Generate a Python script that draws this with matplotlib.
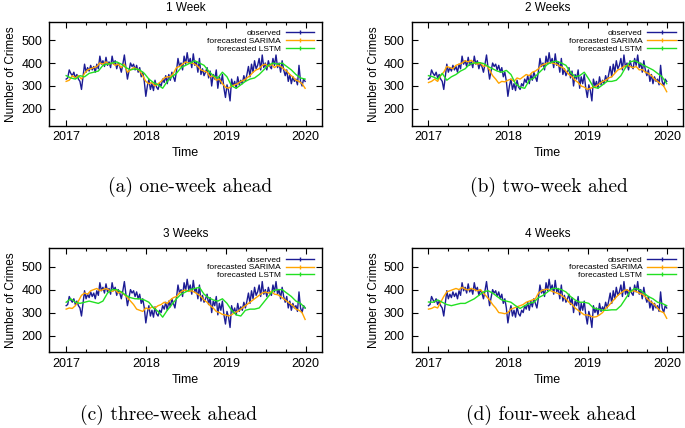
import pandas as pd
import matplotlib
matplotlib.use("Agg")
import matplotlib.pyplot as plt
import matplotlib.dates as mdates
from matplotlib.lines import Line2D

plt.rcParams['font.family'] = ['Liberation Sans', 'DejaVu Sans']

# weekly observed counts, 2017-01-01 .. 2019-12-29
observed = [
    330, 335, 370, 355, 345, 360, 335, 350, 330, 320, 285, 340, 395,
    360, 380, 365, 390, 370, 385, 360, 395, 375, 430, 395, 410, 385,
    425, 390, 405, 380, 430, 395, 410, 375, 400, 385, 360, 395, 435,
    380, 330, 365, 400, 385, 395, 370, 390, 360, 380, 340, 360, 320,
    255, 300, 330, 285, 310, 280, 325, 295, 285, 310, 300, 330, 315,
    345, 310, 350, 325, 360, 340, 320, 365, 420, 385, 400, 370, 430,
    395, 445, 400, 420, 380, 440, 390, 405, 360, 420, 350, 375, 345,
    360, 380, 335, 365, 300, 350, 330, 370, 290, 340, 310, 350, 290,
    250, 305, 280, 235, 330, 300, 320, 290, 340, 305, 325, 310, 345,
    320, 350, 385, 340, 395, 360, 410, 375, 390, 420, 370, 435, 380,
    400, 370, 410, 385, 375, 420, 390, 435, 380, 400, 360, 410, 370,
    345, 370, 320, 350, 310, 340, 320, 330, 305, 390, 320, 300, 330,
    320,
]

# SARIMA forecasts (every 2nd week)
sarima_1 = [
    320, 325, 345, 335, 345, 330, 355, 370, 375, 380, 385, 400, 395, 405, 395, 400, 390, 395, 380, 395, 360, 370, 380, 375, 365, 345,
    320, 310, 315, 300, 310, 320, 335, 340, 340, 355, 380, 385, 395, 405, 400, 400, 395, 385, 370, 365, 360, 340, 345, 325, 330, 310,
    295, 290, 300, 305, 310, 320, 325, 335, 345, 360, 370, 375, 390, 395, 385, 395, 380, 390, 385, 375, 365, 350, 340, 325, 320, 310,
    290,
]
sarima_2 = [
    315, 320, 330, 320, 345, 360, 385, 380, 375, 390, 395, 400, 410, 405, 412, 400, 395, 400, 385, 390, 370, 345, 330, 312, 320, 318,
    325, 330, 320, 335, 330, 340, 350, 345, 360, 365, 375, 390, 395, 400, 402, 398, 395, 385, 380, 365, 350, 340, 325, 315, 300, 295,
    285, 290, 295, 300, 310, 320, 325, 335, 340, 355, 370, 375, 385, 390, 385, 380, 385, 370, 372, 360, 355, 345, 330, 320, 310, 300,
    275,
]
sarima_3 = [
    315, 320, 318, 330, 350, 375, 385, 380, 395, 400, 405, 395, 400, 405, 398, 392, 400, 385, 390, 378, 365, 350, 335, 315, 310, 305,
    320, 315, 325, 320, 330, 335, 345, 340, 355, 365, 370, 385, 395, 398, 392, 395, 388, 380, 370, 355, 345, 330, 320, 305, 300, 292,
    290, 285, 290, 300, 305, 315, 325, 335, 345, 355, 365, 375, 385, 390, 385, 392, 380, 378, 370, 360, 350, 340, 330, 315, 310, 300,
    270,
]
sarima_4 = [
    315, 318, 325, 320, 345, 370, 390, 395, 400, 405, 400, 410, 402, 398, 405, 400, 395, 400, 385, 370, 355, 335, 320, 300, 298, 295,
    300, 315, 320, 325, 330, 335, 345, 350, 355, 360, 385, 395, 400, 402, 395, 390, 385, 380, 370, 360, 345, 335, 320, 310, 300, 290,
    290, 285, 280, 282, 290, 300, 318, 330, 345, 360, 375, 385, 395, 400, 390, 395, 392, 385, 380, 370, 355, 345, 335, 320, 305, 300,
    275,
]

# LSTM forecasts (every 3rd week)
lstm_1 = [
    345, 335, 330, 345, 340, 355, 360, 365, 390, 395, 400, 405, 395, 380, 370, 375, 370, 355,
    330, 315, 305, 290, 320, 340, 355, 380, 390, 400, 410, 400, 390, 365, 345, 335, 360,
    340, 300, 290, 305, 320, 330, 335, 350, 370, 390, 400, 395, 400, 385, 370, 350, 335, 330,
]
lstm_2 = [
    345, 340, 330, 355, 325, 340, 350, 365, 375, 395, 400, 402, 398, 385, 375, 365, 360, 368,
    350, 310, 295, 290, 325, 335, 355, 375, 395, 405, 408, 400, 390, 360, 340, 345, 360,
    330, 295, 290, 305, 320, 320, 325, 345, 380, 405, 410, 400, 390, 380, 370, 355, 340, 310,
]
lstm_3 = [
    345, 360, 345, 340, 345, 350, 345, 340, 350, 385, 400, 400, 390, 375, 365, 360, 360, 355,
    345, 320, 305, 280, 310, 335, 360, 380, 390, 400, 405, 410, 380, 365, 355, 350, 360,
    340, 310, 290, 285, 310, 315, 315, 320, 345, 370, 395, 400, 400, 385, 370, 350, 340, 320,
]
lstm_4 = [
    346, 345, 355, 345, 335, 330, 335, 340, 340, 350, 360, 375, 390, 395, 385, 370, 355, 350,
    345, 330, 318, 330, 340, 345, 365, 375, 390, 405, 405, 400, 390, 370, 355, 345, 345,
    340, 320, 315, 310, 310, 312, 312, 330, 360, 390, 405, 400, 385, 370, 360, 345, 340, 330,
]

weeks = pd.date_range("2017-01-01", periods=len(observed), freq="7D")
sarima_dates = weeks[::2]
lstm_dates = weeks[::3]

panels = [
    ("1 Week", "(a) one-week ahead", sarima_1, lstm_1, [0.072, 0.7063, 0.3977, 0.243], (190, 187)),
    ("2 Weeks", "(b) two-week ahed", sarima_2, lstm_2, [0.601, 0.7063, 0.3965, 0.243], (549, 187)),
    ("3 Weeks", "(c) three-week ahead", sarima_3, lstm_3, [0.072, 0.1769, 0.3977, 0.243], (168, 415)),
    ("4 Weeks", "(d) four-week ahead", sarima_4, lstm_4, [0.601, 0.1769, 0.3965, 0.243], (551, 415)),
]

c_obs = "#1c1c94"
c_sar = "#ffa500"
c_lstm = "#22e022"

fig = plt.figure(figsize=(6.85, 4.28), dpi=100)

for title, caption, sar, lstm, rect, cpos in panels:
    ax = fig.add_axes(rect)
    ax.plot(weeks, observed, color=c_obs, lw=1.0)
    ax.plot(sarima_dates, sar, color=c_sar, lw=1.0)
    ax.plot(lstm_dates, lstm, color=c_lstm, lw=1.0)

    ax.set_xlim(pd.Timestamp("2016-10-16"), pd.Timestamp("2020-03-14"))
    ax.set_ylim(127, 580)
    ax.set_yticks([200, 300, 400, 500])
    ax.xaxis.set_major_locator(mdates.YearLocator())
    ax.xaxis.set_major_formatter(mdates.DateFormatter("%Y"))
    ax.xaxis.set_minor_locator(mdates.MonthLocator(bymonth=[1, 4, 7, 10]))
    ax.tick_params(which="both", direction="in", top=True, right=True, labelsize=9, width=0.8)
    ax.tick_params(which="major", length=4)
    ax.tick_params(which="minor", length=2.5)
    ax.tick_params(axis="y", pad=5)
    ax.tick_params(axis="x", pad=4)
    for s in ax.spines.values():
        s.set_linewidth(1.0)

    ax.set_title(title, fontsize=8.5, pad=8)
    ax.set_xlabel("Time", fontsize=9, labelpad=3)
    ax.set_ylabel("Number of Crimes", fontsize=8.5, labelpad=3)

    handles = [
        Line2D([], [], color=c_obs, lw=1.0, marker="|", ms=2.5),
        Line2D([], [], color=c_sar, lw=1.0, marker="|", ms=2.5),
        Line2D([], [], color=c_lstm, lw=1.0, marker="|", ms=2.5),
    ]
    ax.legend(handles, ["observed", "forecasted SARIMA", "forecasted LSTM"],
              loc="upper right", frameon=False, fontsize=6, markerfirst=False,
              handlelength=3.4, handletextpad=0.6, labelspacing=0.0,
              borderaxespad=0.5, borderpad=0.4)

    fig.text(cpos[0] / 685, 1 - cpos[1] / 428, caption, family="cmr10",
             fontsize=14, ha="center", va="center")

fig.savefig("out.png", dpi=100)
